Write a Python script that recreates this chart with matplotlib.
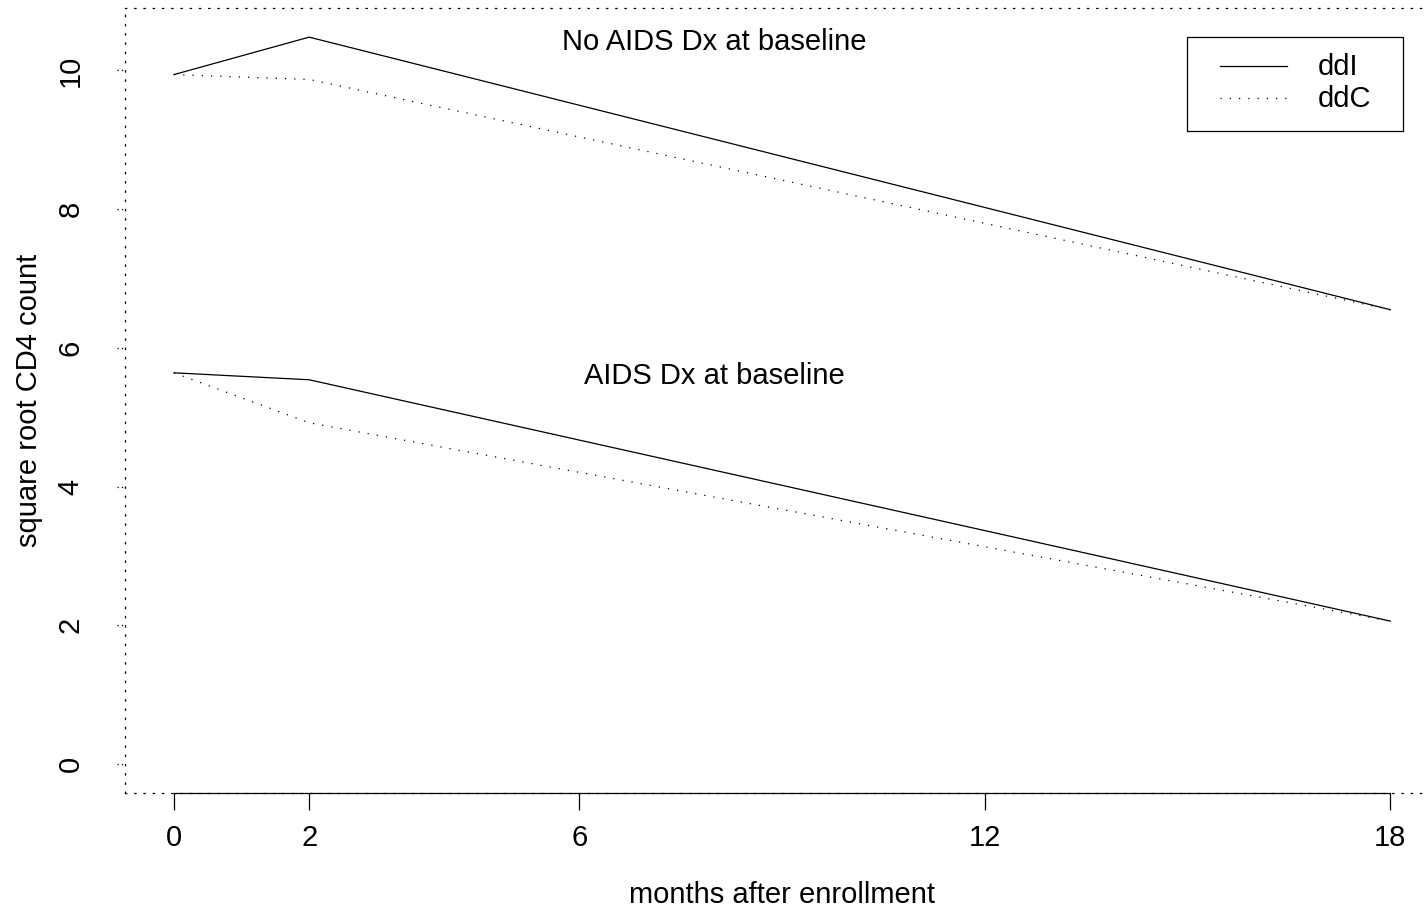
import numpy as np
import matplotlib
matplotlib.use("Agg")
import matplotlib.pyplot as plt
from matplotlib.lines import Line2D
from matplotlib.patches import Rectangle

plt.rcParams['font.family'] = ['Liberation Sans', 'DejaVu Sans']

# values (square root CD4 count)
months = [0, 2, 18]
noaids_ddI = [9.94, 10.48, 6.55]
noaids_ddC = [9.94, 9.87, 6.55]
aids_ddI = [5.64, 5.54, 2.06]
aids_ddC = [5.64, 4.92, 2.06]

xticks = [0, 2, 6, 12, 18]
yticks = [0, 2, 4, 6, 8, 10]
treatments = ['ddI', 'ddC']
panel_labels = ['No AIDS Dx at baseline', 'AIDS Dx at baseline']

FS = 21
dot = (0, (1, 6.4))
W, H = 1426, 909
fig = plt.figure(figsize=(W / 100, H / 100), dpi=100)
ax = fig.add_axes([125 / W, 1 - 793 / H, (1439 - 125) / W, (793 - 8) / H])

ax.plot(months, noaids_ddI, color='black', lw=0.9)
ax.plot(months, noaids_ddC, color='black', lw=0.9, linestyle=dot)
ax.plot(months, aids_ddI, color='black', lw=0.9)
ax.plot(months, aids_ddC, color='black', lw=0.9, linestyle=dot)

ax.set_xlim(-0.725, 18.72)
ax.set_ylim(-0.418, 10.90)

for s in ax.spines.values():
    s.set_linestyle(dot)
    s.set_linewidth(0.9)

# solid x axis from first to last tick
ax.plot([xticks[0], xticks[-1]], [0, 0], color='black', lw=0.9,
        transform=ax.get_xaxis_transform(), clip_on=False)

ax.set_xticks(xticks)
ax.set_yticks(yticks)
ax.tick_params(axis='x', length=12, width=0.9, pad=10, labelsize=FS)
ax.tick_params(axis='y', length=0, pad=29, labelsize=FS)
for lab in ax.get_yticklabels():
    lab.set_rotation(90)
    lab.set_va('center')
# dotted y ticks
for v in yticks:
    ax.plot([-0.006, 0], [v, v], color='black', lw=0.9, linestyle=(0, (1, 2.5)),
            transform=ax.get_yaxis_transform(), clip_on=False)

ax.set_xlabel('months after enrollment', fontsize=FS, labelpad=21)
ax.set_ylabel('square root CD4 count', fontsize=FS, labelpad=10)

ax.text(8, 10.41, panel_labels[0], ha='center', va='center', fontsize=FS)
ax.text(8, 5.6, panel_labels[1], ha='center', va='center', fontsize=FS)

# legend box drawn in figure pixels, like R's legend()
px = lambda x, y: (x / W, 1 - y / H)
fig.patches.append(Rectangle(px(1187, 131), (1403 - 1187) / W, (131 - 37) / H,
                             transform=fig.transFigure, fill=False,
                             edgecolor='black', lw=0.9))
styles = ['-', dot]
for i, (name, ls) in enumerate(zip(treatments, styles)):
    yy = 66 + 32 * i
    fig.add_artist(Line2D([1220 / W, 1287 / W], [1 - yy / H] * 2, color='black',
                          lw=0.9, linestyle=ls, transform=fig.transFigure))
    fig.text(1318 / W, 1 - (yy + 1) / H, name, fontsize=FS, va='center', ha='left')

fig.savefig('out.png', dpi=100)
